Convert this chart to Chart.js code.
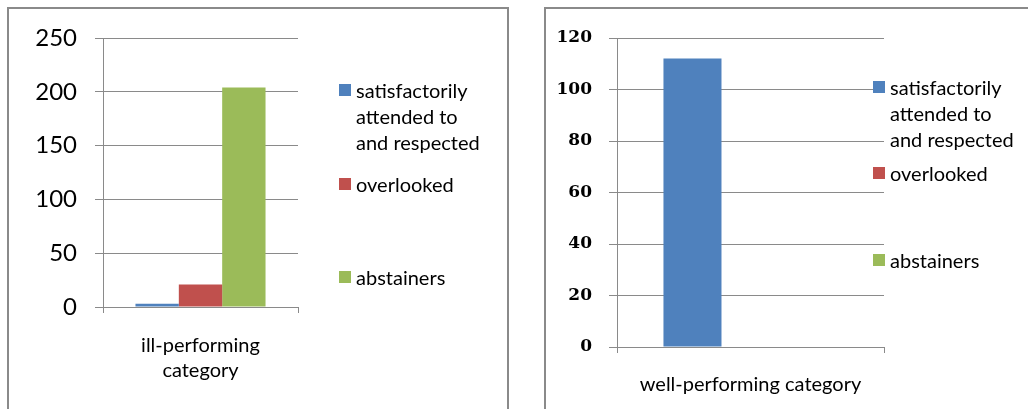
<!DOCTYPE html>
<html>
<head>
<meta charset="utf-8">
<script src="https://cdn.jsdelivr.net/npm/chart.js@4.4.0/dist/chart.umd.min.js"></script>
<style>
  body { margin: 0; width: 1028px; height: 409px; overflow: hidden; background: #fff; font-family: Lato, sans-serif; }
  .frame { position: absolute; border: 2px solid #8a8a8a; border-bottom: none; }
  .wrap { position: absolute; top: 0; height: 409px; }
  .legend { position: absolute; font-size: 20px; line-height: 26px; color: #000; }
  .legend .item { position: absolute; left: 0; white-space: nowrap; }
  .legend .box { position: absolute; left: 0; top: 7px; width: 12px; height: 12px; }
  .legend .txt { position: absolute; left: 17px; top: 0; }
</style>
</head>
<body>
<div class="frame" style="left:7px;top:7px;width:498px;height:410px"></div>
<div class="frame" style="left:544px;top:7px;width:490px;height:410px"></div>
<div class="wrap" style="left:0;width:530px"><canvas id="ill"></canvas></div>
<div class="wrap" style="left:530px;width:498px"><canvas id="well"></canvas></div>
<div class="legend" id="legIll" style="left:339px;top:0"></div>
<div class="legend" id="legWell" style="left:873px;top:0"></div>
<script>
const seriesNames = [['satisfactorily', 'attended to', 'and respected'], ['overlooked'], ['abstainers']];
const seriesColors = ['#4F81BD', '#C0504D', '#9BBB59'];

// ill-performing chart
const illCategories = [['ill-performing', 'category']];
const illSatisfied = [3];
const illOverlooked = [21];
const illAbstainers = [204];
const illTicks = [0, 50, 100, 150, 200, 250];

// well-performing chart
const wellCategories = ['well-performing category'];
const wellSatisfied = [112];
const wellOverlooked = [0];
const wellAbstainers = [0];
const wellTicks = [0, 20, 40, 60, 80, 100, 120];

const gridColor = '#8a8a8a';

function makeChart(id, cats, values, ticks, o) {
  const canvas = document.getElementById(id);
  const w = canvas.parentNode.clientWidth;
  canvas.width = w; canvas.height = 409;
  canvas.chart = new Chart(canvas, {
    type: 'bar',
    data: {
      labels: cats,
      datasets: values.map((v, i) => ({
        label: seriesNames[i].join(' '),
        data: v,
        backgroundColor: seriesColors[i],
        barPercentage: 1,
        categoryPercentage: o.catPct,
      })),
    },
    options: {
      responsive: false,
      animation: false,
      layout: { padding: { top: 38, right: w - o.right, left: 0, bottom: 0 } },
      plugins: { legend: { display: false }, tooltip: { enabled: false } },
      scales: {
        x: {
          grid: { drawOnChartArea: false, offset: true, tickLength: 6, color: gridColor },
          border: { color: gridColor },
          ticks: { color: '#000', font: { family: 'Lato', size: 20, lineHeight: 1.25 }, padding: o.xPad, maxRotation: 0 },
          afterFit: s => { s.height = 409 - o.bottom; },
        },
        y: {
          min: 0,
          max: ticks[ticks.length - 1],
          afterBuildTicks: s => { s.ticks = ticks.map(v => ({ value: v })); },
          grid: { color: gridColor, tickLength: 8 },
          border: { color: gridColor },
          ticks: { color: '#000', font: o.yFont, padding: o.yPad },
          afterFit: s => { s.width = o.left; },
        },
      },
    },
  });
}

makeChart('ill', illCategories, [illSatisfied, illOverlooked, illAbstainers], illTicks,
  { left: 103, right: 298, bottom: 307, catPct: 0.667, xPad: 20, yPad: 18,
    yFont: { family: 'Lato', size: 24 } });
makeChart('well', wellCategories, [wellSatisfied, wellOverlooked, wellAbstainers], wellTicks,
  { left: 87, right: 354, bottom: 347, catPct: 0.652, xPad: 19, yPad: 17,
    yFont: { family: 'DejaVu Serif', size: 17, weight: 'bold' } });

// legends: Excel spreads the entries vertically, positions
function makeLegend(id, tops) {
  const el = document.getElementById(id);
  seriesNames.forEach((lines, i) => {
    const item = document.createElement('div');
    item.className = 'item';
    item.style.top = tops[i] + 'px';
    const box = document.createElement('div');
    box.className = 'box';
    box.style.background = seriesColors[i];
    const txt = document.createElement('div');
    txt.className = 'txt';
    txt.innerHTML = lines.join('<br>');
    item.appendChild(box);
    item.appendChild(txt);
    el.appendChild(item);
  });
}
makeLegend('legIll', [77, 171, 264]);
makeLegend('legWell', [74, 160, 247]);
</script>
</body>
</html>
